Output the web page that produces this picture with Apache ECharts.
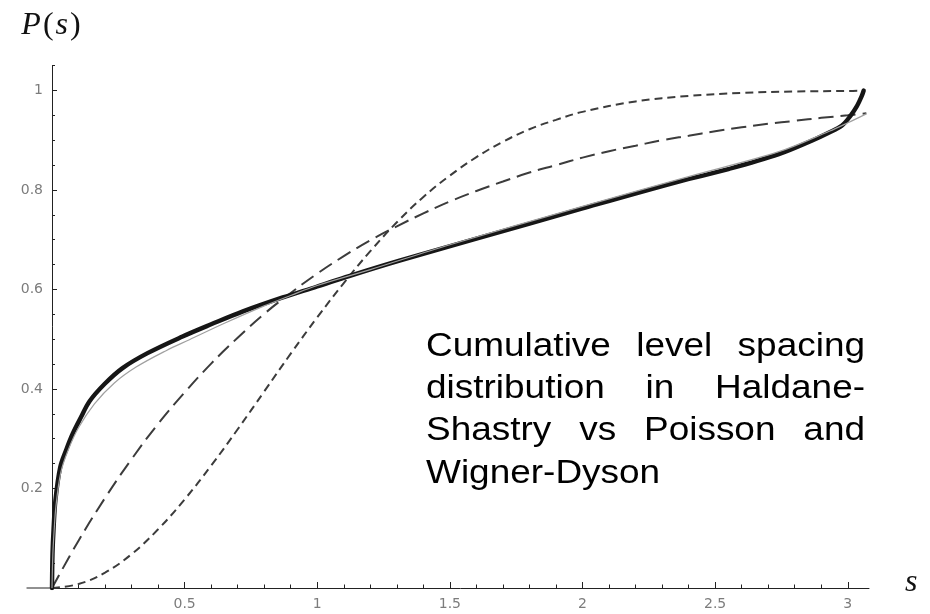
<!DOCTYPE html>
<html><head><meta charset="utf-8">
<script src="https://cdn.jsdelivr.net/npm/echarts@6/dist/echarts.min.js"></script>
<style>html,body{margin:0;padding:0;background:#fff}#c{width:930px;height:614px}</style>
</head><body><div id="c"></div>
<script>
// ---- data ----
const hsSpacing    = [0, 0.002, 0.006, 0.013, 0.031, 0.053, 0.078, 0.11, 0.141, 0.198, 0.266, 0.36, 0.49, 0.6, 0.72, 0.87, 1.0, 1.12, 1.31, 1.6, 2.0, 2.363, 2.55, 2.74, 2.864, 2.928, 2.977, 3.01, 3.035, 3.052, 3.06];
const hsCumulative = [0, 0.07, 0.12, 0.177, 0.243, 0.277, 0.31, 0.344, 0.375, 0.41, 0.442, 0.472, 0.505, 0.53, 0.556, 0.584, 0.606, 0.627, 0.658, 0.702, 0.763, 0.817, 0.842, 0.872, 0.899, 0.915, 0.929, 0.949, 0.969, 0.988, 1.0];

const fitSpacing    = [0, 0.003, 0.008, 0.015, 0.033, 0.06, 0.1, 0.16, 0.235, 0.317, 0.43, 0.518, 0.65, 0.8, 0.9, 1.0, 1.2, 1.5, 2.0, 2.4, 2.74, 2.93, 3.0, 3.07];
const fitCumulative = [0, 0.065, 0.115, 0.165, 0.232, 0.276, 0.322, 0.37, 0.412, 0.444, 0.477, 0.499, 0.532, 0.567, 0.588, 0.608, 0.64, 0.69, 0.767, 0.827, 0.877, 0.918, 0.935, 0.953];

const poissonSpacing    = [0, 0.1, 0.2, 0.3, 0.4, 0.5, 0.6, 0.7, 0.8, 0.9, 1.0, 1.1, 1.2, 1.3, 1.4, 1.5, 1.6, 1.7, 1.8, 1.9, 2.0, 2.1, 2.2, 2.3, 2.4, 2.5, 2.6, 2.7, 2.8, 2.9, 3.0, 3.07];
const poissonCumulative = [0, 0.095, 0.181, 0.259, 0.330, 0.393, 0.451, 0.503, 0.551, 0.593, 0.632, 0.667, 0.699, 0.727, 0.753, 0.777, 0.798, 0.817, 0.835, 0.850, 0.865, 0.878, 0.889, 0.900, 0.909, 0.918, 0.926, 0.933, 0.939, 0.945, 0.950, 0.954];

const wignerSpacing    = [0, 0.1, 0.2, 0.3, 0.4, 0.5, 0.6, 0.7, 0.8, 0.9, 1.0, 1.1, 1.2, 1.3, 1.4, 1.5, 1.6, 1.7, 1.8, 1.9, 2.0, 2.2, 2.4, 2.6, 2.8, 3.0, 3.06];
const wignerCumulative = [0, 0.008, 0.031, 0.068, 0.118, 0.178, 0.246, 0.319, 0.395, 0.471, 0.544, 0.613, 0.677, 0.735, 0.786, 0.829, 0.866, 0.897, 0.922, 0.941, 0.957, 0.978, 0.989, 0.995, 0.998, 0.999, 0.9994];

const sTicksMajor = [0.5, 1, 1.5, 2, 2.5, 3];
const sTicksMinor = [0.1, 0.2, 0.3, 0.4, 0.6, 0.7, 0.8, 0.9, 1.1, 1.2, 1.3, 1.4, 1.6, 1.7, 1.8, 1.9, 2.1, 2.2, 2.3, 2.4, 2.6, 2.7, 2.8, 2.9];
const pTicksMajor = [0.2, 0.4, 0.6, 0.8, 1];
const pTicksMinor = [0.05, 0.1, 0.15, 0.25, 0.3, 0.35, 0.45, 0.5, 0.55, 0.65, 0.7, 0.75, 0.85, 0.9, 0.95, 1.05];

const annotationLines = [
  ['Cumulative', 'level', 'spacing'],
  ['distribution', 'in', 'Haldane-'],
  ['Shastry', 'vs', 'Poisson', 'and'],
  ['Wigner-Dyson']
];

// ---- chart ----
const zip = (a, b) => a.map((v, i) => [v, b[i]]);
const chart = echarts.init(document.getElementById('c'), null, {renderer: 'canvas'});
const axisColor = '#222';
const labelStyle = {color: '#7c7c7c', fontFamily: 'DejaVu Sans', fontSize: 14};
const mathRich = {
  i: {fontFamily: 'Liberation Serif', fontStyle: 'italic', fontSize: 32, color: '#111'},
  n: {fontFamily: 'Liberation Serif', fontSize: 32, color: '#111', padding: [0, 2, 0, 2]}
};
const sRich = {
  i: {fontFamily: 'Liberation Serif', fontStyle: 'italic', fontSize: 32, color: '#111', padding: [0, 0, 10, 0]}
};

chart.setOption({
  animation: false,
  backgroundColor: '#fff',
  grid: {left: 52, right: 61, top: 65.6, bottom: 26, containLabel: false},
  xAxis: [
    {
      type: 'value', min: 0, max: 3.08, position: 'bottom',
      axisLine: {onZero: false, lineStyle: {color: axisColor, width: 1}},
      axisTick: {inside: true, length: 6, customValues: sTicksMajor, lineStyle: {color: axisColor}},
      axisLabel: Object.assign({customValues: sTicksMajor, margin: 9}, labelStyle),
      splitLine: {show: false},
      name: '{i|s}', nameLocation: 'end', nameGap: 36,
      nameTextStyle: {rich: sRich}
    },
    {
      type: 'value', min: 0, max: 3.08, position: 'bottom',
      axisLine: {show: false, onZero: false},
      axisTick: {inside: true, length: 3.5, customValues: sTicksMinor, lineStyle: {color: axisColor}},
      axisLabel: {show: false}, splitLine: {show: false}
    }
  ],
  yAxis: [
    {
      type: 'value', min: 0, max: 1.05, position: 'left',
      axisLine: {show: true, onZero: false, lineStyle: {color: axisColor, width: 1}},
      axisTick: {show: true, inside: true, length: 5, customValues: pTicksMajor, lineStyle: {color: axisColor}},
      axisLabel: Object.assign({customValues: pTicksMajor, margin: 9}, labelStyle),
      splitLine: {show: false},
      name: '{i|P}{n|(}{i|s}{n|)}', nameLocation: 'end', nameGap: 24,
      nameTextStyle: {rich: mathRich}
    },
    {
      type: 'value', min: 0, max: 1.05, position: 'left',
      axisLine: {show: false, onZero: false},
      axisTick: {show: true, inside: true, length: 3, customValues: pTicksMinor, lineStyle: {color: axisColor}},
      axisLabel: {show: false}, splitLine: {show: false}
    }
  ],
  series: [
    {
      name: 'Wigner-Dyson', type: 'line', data: zip(wignerSpacing, wignerCumulative),
      showSymbol: false, smooth: 0.4, z: 2,
      lineStyle: {color: '#3c3c3c', width: 2, type: [8, 5]}
    },
    {
      name: 'Poisson', type: 'line', data: zip(poissonSpacing, poissonCumulative),
      showSymbol: false, smooth: 0.4, z: 2,
      lineStyle: {color: '#3c3c3c', width: 2, type: [15, 7]}
    },
    {
      name: 'Haldane-Shastry', type: 'line', data: zip(hsSpacing, hsCumulative),
      showSymbol: false, smooth: 0.35, z: 3,
      lineStyle: {color: '#161616', width: 4.4, cap: 'round', join: 'round'}
    },
    {
      name: 'Fit', type: 'line', data: zip(fitSpacing, fitCumulative),
      showSymbol: false, smooth: 0.35, z: 4,
      lineStyle: {color: '#a0a0a0', width: 1.2}
    }
  ]
});

// ---- left extension of the horizontal axis and justified annotation ----
const axisLeftExtent = -0.096;
const pA = chart.convertToPixel({xAxisIndex: 0, yAxisIndex: 0}, [axisLeftExtent, 0]);
const pB = chart.convertToPixel({xAxisIndex: 0, yAxisIndex: 0}, [0, 0]);

const fontSize = 33, stretch = 1.12;
const fontStr = fontSize + 'px "Liberation Sans"';
const ctx = document.createElement('canvas').getContext('2d');
ctx.font = fontStr;
const boxLeft = 426, boxRight = 865, firstBaseline = 358, lineGap = 42.3;
const graphics = [{
  type: 'line', silent: true,
  shape: {x1: pA[0], y1: pA[1], x2: pB[0], y2: pB[1]},
  style: {stroke: axisColor, lineWidth: 1}
}];
annotationLines.forEach((words, li) => {
  const widths = words.map(w => ctx.measureText(w).width * stretch);
  const total = widths.reduce((a, b) => a + b, 0);
  const last = li === annotationLines.length - 1;
  const gap = (!last && words.length > 1) ? (boxRight - boxLeft - total) / (words.length - 1) : ctx.measureText(' ').width * stretch;
  let x = boxLeft;
  const y = firstBaseline + li * lineGap - 0.3465 * fontSize;
  words.forEach((w, wi) => {
    graphics.push({
      type: 'text', x: x, y: y, scaleX: stretch, silent: true,
      style: {text: w, font: fontStr, fill: '#000', textAlign: 'left', textVerticalAlign: 'middle', align: 'left', verticalAlign: 'middle'}
    });
    x += widths[wi] + gap;
  });
});
chart.setOption({graphic: graphics});
</script>
</body></html>
